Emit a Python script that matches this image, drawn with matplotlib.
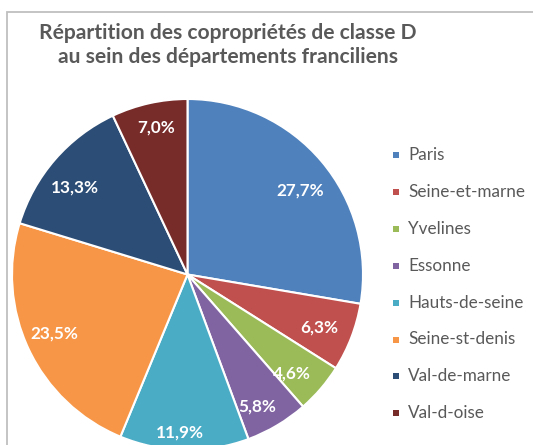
import matplotlib
matplotlib.use("Agg")
import matplotlib.pyplot as plt
from matplotlib.patches import Rectangle
import numpy as np

categories = ["Paris", "Seine-et-marne", "Yvelines", "Essonne", "Hauts-de-seine",
              "Seine-st-denis", "Val-de-marne", "Val-d-oise"]
values = [27.7, 6.3, 4.6, 5.8, 11.9, 23.5, 13.3, 7.0]
labels_pct = ["27,7%", "6,3%", "4,6%", "5,8%", "11,9%", "23,5%", "13,3%", "7,0%"]
colors = ["#4F81BD", "#C0504D", "#9BBB59", "#8064A2", "#4BACC6", "#F79646", "#2C4D75", "#772C2A"]
title = "Répartition des copropriétés de classe D\nau sein des départements franciliens"

# label placement style (radial distance and angular nudge, like Excel "best fit")
label_dist = [0.80, 0.81, 0.82, 0.85, 0.90, 0.83, 0.81, 0.855]
label_nudge = [-3.5, -1.0, -3.0, -2.6, -1.4, -1.3, 3.6, 0.0]

plt.rcParams['font.family'] = ['Lato', 'DejaVu Sans']

W, H = 533, 445
fig = plt.figure(figsize=(W / 100, H / 100), dpi=100)

# chart border
fig.patches.append(Rectangle((6.5 / W, -0.1), 1.2, 1 - 12 / H + 0.1, transform=fig.transFigure,
                             fill=False, edgecolor="#BFBFBF", linewidth=1.3, zorder=0))

cx, cy, R = 187.5, 274.5, 175.5
ax = fig.add_axes([(cx - R) / W, (H - cy - R) / H, 2 * R / W, 2 * R / H])
wedges, _ = ax.pie(values, colors=colors, startangle=90, counterclock=False, radius=1,
                   wedgeprops=dict(edgecolor="white", linewidth=1.5))
cum = np.cumsum([0] + values[:-1])
for v, c, lab, r, nd in zip(values, cum, labels_pct, label_dist, label_nudge):
    ang = np.deg2rad(90 - (c + v / 2) * 3.6 + nd)
    ax.text(r * np.cos(ang), r * np.sin(ang), lab, ha="center", va="center",
            color="white", fontsize=12.3, fontweight="bold")
ax.set_xlim(-1, 1)
ax.set_ylim(-1, 1)
ax.set_aspect("equal")
ax.axis("off")

fig.text(228 / W, 1 - 45 / H, title, ha="center", va="center", fontsize=15.1,
         fontweight="bold", color="#595959", linespacing=1.3)

# legend
y0, dy = 155, 36.9
for i, (cat, col) in enumerate(zip(categories, colors)):
    y = y0 + i * dy
    fig.patches.append(Rectangle((393 / W, 1 - (y + 3) / H), 6 / W, 6 / H,
                                 transform=fig.transFigure, facecolor=col, edgecolor="none"))
    fig.text(408 / W, 1 - y / H, cat, ha="left", va="center", fontsize=12.3, color="#595959")

fig.savefig("out.png", dpi=100)
